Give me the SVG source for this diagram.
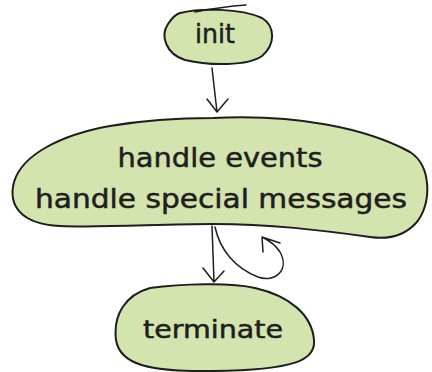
<svg xmlns="http://www.w3.org/2000/svg" width="432" height="372" viewBox="0 0 432 372">
<style>
.node{fill:#d3e4ae;stroke:#1e1e1e;stroke-width:2;stroke-linejoin:round}
.edge{fill:none;stroke:#1e1e1e;stroke-width:1.5;stroke-linecap:round;stroke-linejoin:round}
text{font-family:"DejaVu Sans","Noto Sans",sans-serif;fill:#1e1e1e;stroke:#1e1e1e;stroke-width:0.5;text-anchor:middle}
</style>
<rect width="432" height="372" fill="#ffffff"/>
<g id="connectors">
<path class="edge" d="M 212 68 L 217 112 M 207 99 L 217 112 L 228 99"/>
<path class="edge" d="M 212 226 L 214 282 M 203 268 L 214 282 L 224 271"/>
<path class="edge" d="M 215 227 C 220 250, 235 268, 258 277 C 275 283, 290 270, 280 252 C 275 244, 268 240, 262 237 M 263 252 L 262 237 L 280 243"/>
</g>
<g id="init">
<path class="node" d="M 180 13 C 200 8, 240 8, 262 18 C 275 26, 276 44, 262 56 C 248 66, 210 66, 185 60 C 166 54, 160 36, 168 24 C 172 18, 176 14, 180 13 Z"/>
<path class="edge" d="M 195 12 C 215 8, 232 6, 246 5"/>
<text x="215" y="43" font-size="26" textLength="40" lengthAdjust="spacingAndGlyphs">init</text>
</g>
<g id="main">
<path class="node" d="M 213 118 C 296 114, 366 128, 410 152 C 432 166, 432 205, 416 223 C 405 235, 390 240, 370 237 C 320 230, 270 224, 213 224 C 160 224, 100 228, 60 226 C 20 224, 8 205, 14 182 C 22 155, 60 135, 110 126 C 145 120, 180 118, 213 118 Z"/>
<text x="220" y="167" font-size="26" textLength="205" lengthAdjust="spacingAndGlyphs">handle events</text>
<text x="221" y="208" font-size="26" textLength="372" lengthAdjust="spacingAndGlyphs">handle special messages</text>
</g>
<g id="terminate">
<path class="node" d="M 150 288 C 180 284, 230 282, 255 288 C 290 296, 312 315, 314 340 C 316 360, 295 370, 213 371 C 150 372, 120 365, 116 340 C 113 315, 125 295, 150 288 Z"/>
<text x="213" y="338" font-size="24" textLength="140" lengthAdjust="spacingAndGlyphs">terminate</text>
</g>
</svg>
